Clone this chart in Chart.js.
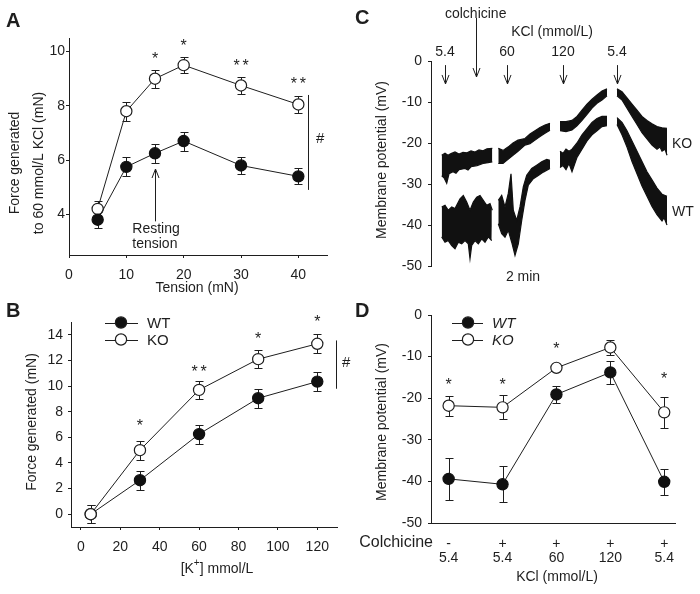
<!DOCTYPE html>
<html><head><meta charset="utf-8">
<script src="https://cdn.jsdelivr.net/npm/chart.js@4.4.1/dist/chart.umd.min.js"></script>
<style>
html,body{margin:0;padding:0;background:#fff;}
#wrap{position:relative;width:700px;height:594px;overflow:hidden;background:#fff;}
#wrap canvas{position:absolute;left:0;top:0;}
</style></head><body>
<div id="wrap">
<canvas id="cA" width="700" height="594"></canvas>
<canvas id="cB" width="700" height="594"></canvas>
<canvas id="cC" width="700" height="594"></canvas>
<canvas id="cD" width="700" height="594"></canvas>
</div>
<script>
// ---------------- Panel A: force vs tension ----------------
const tensionA   = [5, 10, 15, 20, 30, 40];
const koA        = [4.2, 7.8, 9.0, 9.5, 8.75, 8.05];
const koAErr     = [0.3, 0.35, 0.33, 0.3, 0.3, 0.3];
const wtA        = [3.8, 5.75, 6.25, 6.7, 5.8, 5.4];
const wtAErr     = [0.3, 0.35, 0.35, 0.35, 0.3, 0.3];
const starsA     = ['', '', '*', '*', '**', '**'];
const starLevelA = [null, null, 9.89, 10.34, 9.63, 8.96];
const xTicksA    = [0, 10, 20, 30, 40];
const yTicksA    = [4, 6, 8, 10];

// ---------------- Panel B: force vs [K+] ----------------
const kB         = [5, 30, 60, 90, 120];
const koB        = [0, 5.0, 9.7, 12.1, 13.3];
const koBErr     = [0.7, 0.75, 0.7, 0.7, 0.75];
const wtB        = [0, 2.65, 6.25, 9.05, 10.35];
const wtBErr     = [0.7, 0.75, 0.75, 0.75, 0.75];
const starsB     = ['', '*', '**', '*', '*'];
const starLevelB = [null, 7.23, 11.43, 13.95, 15.34];
const xTicksB    = [0, 20, 40, 60, 80, 100, 120];
const yTicksB    = [0, 2, 4, 6, 8, 10, 12, 14];

// ---------------- Panel C: membrane potential traces ----------------
// envelopes of the noisy recordings, per recording segment: [time, mV]
const koUpper = [
  [[10.7,-23],[14,-22.5],[17,-23],[20,-22.6],[24,-22.2],[28,-22.7],[32,-22.3],[36,-22.4],[40,-21.9],[44,-22.2],[48,-21.7],[52,-21.9],[56,-21.4],[61.3,-21.3]],
  [[67.3,-21.3],[72,-21.8],[77,-21],[82,-20],[87,-19.3],[94,-18.9],[99,-17.8],[104,-17],[109,-16.2],[114,-15.6],[119,-15.2]],
  [[129,-14.8],[135,-14.8],[141,-14.5],[146,-13.5],[151,-12],[156,-10.5],[161,-9.3],[166,-8.3],[171,-7.3],[176,-6.8]],
  [[186,-6.8],[191,-7.5],[196,-9],[201,-10.5],[206,-12],[211,-13.5],[216,-14.5],[221,-15.3],[226,-16],[231,-16.3],[236,-16.4]]
];
const koLower = [
  [[10.7,-28],[13,-28.5],[15.7,-29.8],[18,-27.5],[22,-27],[25,-27.4],[28,-26.5],[34,-26.2],[37,-26.6],[40,-25.8],[46,-25.5],[52,-25],[57,-24.8],[61.3,-24.6]],
  [[67.3,-25],[72,-25],[77,-24],[82,-23],[87,-22],[94,-20.5],[99,-20.2],[104,-19.3],[109,-18.4],[114,-17.6],[119,-16.9]],
  [[129,-17],[135,-17.2],[141,-16.8],[146,-15.8],[151,-14.5],[156,-13],[161,-11.5],[166,-10.3],[171,-9.5],[176,-8.5]],
  [[186,-8.5],[191,-9.5],[196,-11.5],[201,-13.5],[206,-15.5],[211,-17.5],[216,-19],[221,-20.5],[226,-21.5],[229,-21],[231,-22],[234,-21.5],[236,-23]]
];
const wtUpper = [
  [[10.7,-35.6],[14,-35.2],[17.3,-36.4],[20.7,-35.6],[24,-36],[29,-33.6],[32.3,-32.8],[35.7,-34.4],[39,-36.4],[42.3,-34.4],[45.7,-33.2],[49,-32.8],[52.3,-34],[55.7,-35.2],[59,-34.8],[61.3,-36.4]],
  [[67.3,-34],[70.7,-32.8],[74,-35.6],[77.3,-32.3],[80,-27.5],[82.3,-36.4],[85.7,-38.9],[89,-35.6],[92.3,-30.7],[95.7,-27.9],[100.7,-26.2],[105.7,-25.4],[110.7,-24.6],[115.7,-24],[119,-24.2]],
  [[129,-22],[132,-22.5],[135,-21.5],[138,-22],[141,-21.5],[146,-20],[151,-18],[156,-16.5],[161,-15],[166,-14],[171,-13.5],[176,-13.5]],
  [[186,-13.8],[191,-15],[196,-17],[201,-19.5],[206,-22],[211,-24.5],[216,-27],[221,-29],[226,-31],[231,-32.5],[236,-33]]
];
const wtLower = [
  [[10.7,-42.9],[14,-44.2],[17.3,-43.8],[20.7,-45],[24,-45.8],[27.3,-44.2],[30.7,-44.6],[34,-43.8],[37.3,-44.6],[39,-48.2],[40.7,-45],[44,-43.8],[47.3,-44.6],[50.7,-43.4],[54,-44.2],[57.3,-42.9],[60.7,-43.8]],
  [[67.3,-39.7],[70.7,-42.1],[74,-43],[77.3,-41.3],[80.7,-44.2],[84,-47.4],[87.3,-44.6],[90.7,-38.9],[94,-34],[97.3,-30.3],[102.3,-28.7],[107.3,-27.9],[112.3,-27.1],[119,-26.2]],
  [[129,-26],[132,-25.5],[135,-26.5],[138,-25],[141,-27],[146,-23.5],[151,-21.5],[156,-19.5],[161,-18],[166,-17],[171,-16],[176,-15.8]],
  [[186,-15.5],[191,-18],[196,-21],[201,-24.5],[206,-27.5],[211,-30.5],[216,-33],[221,-35.5],[226,-37.5],[231,-39],[233,-38.2],[236,-40]]
];
const kclEventTimes  = [14, 76, 132, 186];
const kclEventLabels = ['5.4', '60', '120', '5.4'];
const colchicineTime = 44.7;
const yTicksC        = [0, -10, -20, -30, -40, -50];

// ---------------- Panel D: summary membrane potential ----------------
const posD       = [1, 2, 3, 4, 5];
const colchD     = ['-', '+', '+', '+', '+'];
const kclD       = ['5.4', '5.4', '60', '120', '5.4'];
const koD        = [-21.8, -22.2, -12.7, -7.8, -23.4];
const koDErr     = [2.4, 2.9, 0.8, 1.8, 3.8];
const wtD        = [-39.4, -40.7, -19.1, -13.8, -40.1];
const wtDErr     = [5.1, 4.3, 2.0, 2.7, 3.2];
const starsD     = ['*', '*', '*', '', '*'];
const starLevelD = [-15.8, -15.8, -7.2, null, -14.4];
const yTicksD    = [0, -10, -20, -30, -40, -50];

// ---------------- helpers ----------------
const FONT = "'Liberation Sans', Arial, Helvetica, sans-serif";
const INK = '#1e1e1e';

function txt(ctx, s, x, y, o) {
  o = o || {};
  ctx.save();
  ctx.font = (o.style || 'normal') + ' ' + (o.weight || 'normal') + ' ' + (o.size || 14) + 'px ' + FONT;
  ctx.fillStyle = o.color || INK;
  ctx.textAlign = o.align || 'center';
  ctx.textBaseline = o.baseline || 'middle';
  ctx.translate(x, y);
  if (o.rot) ctx.rotate(o.rot);
  ctx.fillText(s, 0, 0);
  ctx.restore();
}
function seg(ctx, x1, y1, x2, y2, w) {
  ctx.save(); ctx.strokeStyle = INK; ctx.lineWidth = w || 1;
  ctx.beginPath(); ctx.moveTo(x1, y1); ctx.lineTo(x2, y2); ctx.stroke(); ctx.restore();
}
function arrow(ctx, x, yFrom, yTo) {
  const dir = yTo > yFrom ? 1 : -1;
  const xx = Math.round(x) + 0.5;
  ctx.save(); ctx.strokeStyle = INK; ctx.lineWidth = 1;
  ctx.beginPath();
  ctx.moveTo(xx, yFrom); ctx.lineTo(xx, yTo);
  ctx.moveTo(xx - 3.5, yTo - dir * 9); ctx.lineTo(xx, yTo); ctx.lineTo(xx + 3.5, yTo - dir * 9);
  ctx.stroke(); ctx.restore();
}
function drawStars(chart, labels, levels, xs) {
  const ctx = chart.ctx, sx = chart.scales.x, sy = chart.scales.y;
  labels.forEach((s, i) => {
    if (!s) return;
    const x = sx.getPixelForValue(xs[i]);
    const yc = sy.getPixelForValue(levels[i]);
    const n = s.length;
    for (let k = 0; k < n; k++) {
      txt(ctx, '*', x + (k - (n - 1) / 2) * 9, yc + 9, {baseline: 'alphabetic', size: 16});
    }
  });
}
function legendRows(ctx, x1, x2, xm, xt, rows, italic) {
  rows.forEach(r => {
    const y = Math.round(r.y) + 0.5;
    seg(ctx, x1, y, x2, y, 1);
    ctx.save();
    ctx.beginPath(); ctx.arc(xm, r.y, 5.6, 0, Math.PI * 2);
    ctx.fillStyle = r.filled ? '#111' : '#fff'; ctx.fill();
    ctx.lineWidth = 1.2; ctx.strokeStyle = INK; ctx.stroke();
    ctx.restore();
    txt(ctx, r.label, xt, r.y + 1, {align: 'left', style: italic ? 'italic' : 'normal', size: 15});
  });
}
function sigBar(chart, x, yTop, yBot, hx, hy) {
  const ctx = chart.ctx, sx = chart.scales.x, sy = chart.scales.y;
  const px = Math.round(sx.getPixelForValue(x)) + 0.5;
  seg(ctx, px, sy.getPixelForValue(yTop), px, sy.getPixelForValue(yBot), 1);
  txt(ctx, '#', sx.getPixelForValue(hx), sy.getPixelForValue(hy), {size: 15});
}

const errorBarPlugin = {
  id: 'errbars',
  beforeDatasetsDraw(chart) {
    const ctx = chart.ctx, sy = chart.scales.y;
    chart.data.datasets.forEach((ds, di) => {
      if (!ds.errors) return;
      const meta = chart.getDatasetMeta(di);
      ctx.save(); ctx.strokeStyle = INK; ctx.lineWidth = 1;
      meta.data.forEach((pt, i) => {
        const v = ds.data[i].y, e = ds.errors[i];
        const x = Math.round(pt.x) + 0.5;
        const y1 = Math.round(sy.getPixelForValue(v + e)) + 0.5;
        const y2 = Math.round(sy.getPixelForValue(v - e)) + 0.5;
        ctx.beginPath();
        ctx.moveTo(x, y1); ctx.lineTo(x, y2);
        ctx.moveTo(x - 4, y1); ctx.lineTo(x + 4, y1);
        ctx.moveTo(x - 4, y2); ctx.lineTo(x + 4, y2);
        ctx.stroke();
      });
      ctx.restore();
    });
  }
};

function linScale(min, max, tickVals, o) {
  const s = {
    type: 'linear', min: min, max: max, display: o.display !== false,
    afterBuildTicks: sc => { sc.ticks = tickVals.map(v => ({value: v})); },
    afterFit: sc => { if (o.w != null) sc.width = o.w; if (o.h != null) sc.height = o.h; },
    grid: {drawOnChartArea: false, drawTicks: o.drawTicks !== false, tickLength: 3, color: INK, lineWidth: 1},
    border: {display: true, color: INK, width: 1},
    ticks: {font: {family: FONT, size: 14, lineHeight: o.lh || 1.2}, color: INK, padding: o.pad || 3,
            autoSkip: false, maxRotation: 0, minRotation: 0}
  };
  if (o.cb) s.ticks.callback = o.cb;
  return s;
}
const filledStyle = {borderColor: INK, borderWidth: 1, pointBackgroundColor: '#111', pointBorderColor: '#111',
  pointRadius: 5.6, pointBorderWidth: 1.2, fill: false, tension: 0, clip: false, backgroundColor: '#111'};
const openStyle = {borderColor: INK, borderWidth: 1, pointBackgroundColor: '#fff', pointBorderColor: INK,
  pointRadius: 5.6, pointBorderWidth: 1.2, fill: false, tension: 0, clip: false, backgroundColor: '#fff'};
const pts = (xs, ys) => xs.map((x, i) => ({x: x, y: ys[i]}));
const common = {responsive: false, animation: false, devicePixelRatio: 1,
  plugins: {legend: {display: false}, tooltip: {enabled: false}}, events: []};

// ---------------- Chart A ----------------
new Chart(document.getElementById('cA'), {
  type: 'line',
  data: {datasets: [
    Object.assign({label: 'WT', data: pts(tensionA, wtA), errors: wtAErr}, filledStyle),
    Object.assign({label: 'KO', data: pts(tensionA, koA), errors: koAErr}, openStyle)
  ]},
  options: Object.assign({}, common, {
    layout: {padding: {left: 29, right: 373, top: 38, bottom: 309}},
    scales: {
      x: linScale(0, 45, xTicksA, {h: 30, pad: 9}),
      y: linScale(2.5, 10.5, yTicksA, {w: 40, pad: 1})
    }
  }),
  plugins: [errorBarPlugin, {
    id: 'decoA',
    afterDraw(chart) {
      const ctx = chart.ctx, sx = chart.scales.x, sy = chart.scales.y;
      txt(ctx, 'A', 6, 27, {align: 'left', baseline: 'alphabetic', weight: 'bold', size: 20});
      txt(ctx, 'Force generated', 15, 163, {rot: -Math.PI / 2});
      txt(ctx, 'to 60 mmol/L KCl (mN)', 39, 163, {rot: -Math.PI / 2});
      txt(ctx, 'Tension (mN)', 197, 288);
      drawStars(chart, starsA, starLevelA, tensionA);
      sigBar(chart, 41.7, 8.4, 4.9, 43.8, 6.8);
      const ax = sx.getPixelForValue(15);
      arrow(ctx, ax, sy.getPixelForValue(3.74), sy.getPixelForValue(5.67));
      const lx = sx.getPixelForValue(11.04);
      txt(ctx, 'Resting', lx, sy.getPixelForValue(3.44), {align: 'left'});
      txt(ctx, 'tension', lx, sy.getPixelForValue(2.89), {align: 'left'});
    }
  }]
});

// ---------------- Chart B ----------------
new Chart(document.getElementById('cB'), {
  type: 'line',
  data: {datasets: [
    Object.assign({label: 'KO', data: pts(kB, koB), errors: koBErr}, openStyle),
    Object.assign({label: 'WT', data: pts(kB, wtB), errors: wtBErr}, filledStyle)
  ]},
  options: Object.assign({}, common, {
    layout: {padding: {left: 31, right: 363, top: 322, bottom: 37}},
    scales: {
      x: linScale(-5, 130, xTicksB, {h: 30, pad: 9}),
      y: linScale(-1, 15, yTicksB, {w: 40, pad: 5})
    }
  }),
  plugins: [errorBarPlugin, {
    id: 'decoB',
    afterDraw(chart) {
      const ctx = chart.ctx;
      txt(ctx, 'B', 6, 317, {align: 'left', baseline: 'alphabetic', weight: 'bold', size: 20});
      txt(ctx, 'Force generated (mN)', 32, 422, {rot: -Math.PI / 2});
      ctx.save();
      ctx.font = '14px ' + FONT;
      const w1 = ctx.measureText('[K').width, w3 = ctx.measureText('] mmol/L').width;
      ctx.font = '10px ' + FONT;
      const w2 = ctx.measureText('+').width;
      ctx.restore();
      let x0 = 217 - (w1 + w2 + w3) / 2;
      txt(ctx, '[K', x0, 569, {align: 'left'});
      txt(ctx, '+', x0 + w1, 563, {align: 'left', size: 10});
      txt(ctx, '] mmol/L', x0 + w1 + w2, 569, {align: 'left'});
      drawStars(chart, starsB, starLevelB, kB);
      sigBar(chart, 129.4, 13.56, 9.79, 134.6, 11.8);
      legendRows(ctx, 105, 138, 121, 147, [
        {y: 322.5, filled: true, label: 'WT'},
        {y: 339.5, filled: false, label: 'KO'}
      ], false);
    }
  }]
});

// ---------------- Chart C ----------------
const cDatasets = [];
[[koUpper, koLower, 'KO'], [wtUpper, wtLower, 'WT']].forEach(([up, lo, name]) => {
  up.forEach((sgm, si) => {
    cDatasets.push({label: name + ' seg' + si + ' upper', data: sgm.map(p => ({x: p[0], y: p[1]})),
      fill: '+1', backgroundColor: '#111', borderColor: '#111', borderWidth: 1.2, pointRadius: 0, tension: 0});
    cDatasets.push({label: name + ' seg' + si + ' lower', data: lo[si].map(p => ({x: p[0], y: p[1]})),
      fill: false, backgroundColor: '#111', borderColor: '#111', borderWidth: 1.2, pointRadius: 0, tension: 0});
  });
});
new Chart(document.getElementById('cC'), {
  type: 'line',
  data: {datasets: cDatasets},
  options: Object.assign({}, common, {
    layout: {padding: {left: 391, right: 10, top: 61, bottom: 328}},
    scales: {
      x: {type: 'linear', min: 0, max: 259, display: false},
      y: linScale(-50, 0, yTicksC, {w: 40, pad: 6})
    }
  }),
  plugins: [{
    id: 'decoC',
    afterDraw(chart) {
      const ctx = chart.ctx, sx = chart.scales.x, sy = chart.scales.y;
      txt(ctx, 'C', 355, 24, {align: 'left', baseline: 'alphabetic', weight: 'bold', size: 20});
      txt(ctx, 'Membrane potential (mV)', 382, 160, {rot: -Math.PI / 2});
      kclEventTimes.forEach((t, i) => {
        const x = sx.getPixelForValue(t);
        txt(ctx, kclEventLabels[i], x, sy.getPixelForValue(2.2));
        arrow(ctx, x, sy.getPixelForValue(-1), sy.getPixelForValue(-5.6));
      });
      const cx = sx.getPixelForValue(colchicineTime);
      txt(ctx, 'colchicine', cx, sy.getPixelForValue(11.5));
      arrow(ctx, cx, sy.getPixelForValue(10.5), sy.getPixelForValue(-3.9));
      txt(ctx, 'KCl (mmol/L)', sx.getPixelForValue(121), sy.getPixelForValue(7.1));
      txt(ctx, 'KO', sx.getPixelForValue(241), sy.getPixelForValue(-20.2), {align: 'left'});
      txt(ctx, 'WT', sx.getPixelForValue(241), sy.getPixelForValue(-36.8), {align: 'left'});
      txt(ctx, '2 min', sx.getPixelForValue(92), sy.getPixelForValue(-52.8));
    }
  }]
});

// ---------------- Chart D ----------------
new Chart(document.getElementById('cD'), {
  type: 'line',
  data: {datasets: [
    Object.assign({label: 'WT', data: pts(posD, wtD), errors: wtDErr}, filledStyle),
    Object.assign({label: 'KO', data: pts(posD, koD), errors: koDErr}, openStyle)
  ]},
  options: Object.assign({}, common, {
    layout: {padding: {left: 391, right: 25, top: 315, bottom: 26}},
    scales: {
      x: linScale(0.673, 5.2, posD, {h: 45, pad: 14, drawTicks: false, lh: 1.03,
          cb: (v, i) => [colchD[i], kclD[i]]}),
      y: linScale(-50, 0, yTicksD, {w: 40, pad: 6})
    }
  }),
  plugins: [errorBarPlugin, {
    id: 'decoD',
    afterDraw(chart) {
      const ctx = chart.ctx;
      txt(ctx, 'D', 355, 317, {align: 'left', baseline: 'alphabetic', weight: 'bold', size: 20});
      txt(ctx, 'Membrane potential (mV)', 382, 422, {rot: -Math.PI / 2});
      txt(ctx, 'Colchicine', chart.chartArea.left + 2, 542.5, {align: 'right', size: 16});
      txt(ctx, 'KCl (mmol/L)', 557, 577);
      drawStars(chart, starsD, starLevelD, posD);
      legendRows(ctx, 452, 483, 468, 492, [
        {y: 322.5, filled: true, label: 'WT'},
        {y: 339.5, filled: false, label: 'KO'}
      ], true);
    }
  }]
});
</script>
</body></html>
